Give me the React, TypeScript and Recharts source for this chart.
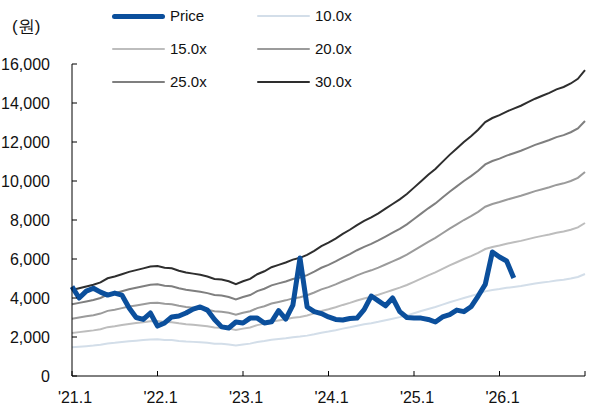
import React from 'react';
import { LineChart, Line, XAxis, YAxis } from 'recharts';

const months: string[] = [
  '21.01','21.02','21.03','21.04','21.05','21.06','21.07','21.08','21.09','21.10','21.11','21.12',
  '22.01','22.02','22.03','22.04','22.05','22.06','22.07','22.08','22.09','22.10','22.11','22.12',
  '23.01','23.02','23.03','23.04','23.05','23.06','23.07','23.08','23.09','23.10','23.11','23.12',
  '24.01','24.02','24.03','24.04','24.05','24.06','24.07','24.08','24.09','24.10','24.11','24.12',
  '25.01','25.02','25.03','25.04','25.05','25.06','25.07','25.08','25.09','25.10','25.11','25.12',
  '26.01','26.02','26.03','26.04','26.05','26.06','26.07','26.08','26.09','26.10','26.11','26.12',
  '27.01',
];

// forward EPS (원)
const eps: number[] = [
  147, 150, 153, 156, 160, 167, 170, 174, 178, 181, 184, 187,
  188, 185, 184, 180, 177, 175, 173, 170, 166, 165, 162, 157,
  162, 166, 174, 179, 186, 190, 194, 199, 202, 207, 214, 222,
  228, 235, 243, 250, 258, 265, 271, 278, 286, 294, 302, 311,
  322, 333, 344, 354, 366, 378, 389, 400, 410, 421, 434, 441,
  446, 452, 457, 462, 468, 474, 479, 484, 490, 494, 500, 508,
  523,
];

const price: (number | null)[] = [
  4580, 4000, 4350, 4500, 4300, 4150, 4250, 4150, 3500, 3000, 2900, 3230,
  2560, 2720, 3030, 3080, 3230, 3430, 3540, 3380, 2900, 2520, 2460, 2770,
  2720, 2970, 2970, 2720, 2780, 3350, 2920, 3640, 6050, 3540, 3300, 3200,
  3030, 2900, 2870, 2950, 2970, 3400, 4100, 3850, 3600, 4000, 3300, 3000,
  2970, 2970, 2900, 2770, 3030, 3150, 3380, 3300, 3550, 4100, 4700, 6360,
  6100, 5900, 5030,
];

const multiples: number[] = [10, 15, 20, 25, 30];
const bandNames: string[] = ['10.0x', '15.0x', '20.0x', '25.0x', '30.0x'];
const bandColors: string[] = ['#D3DEE9', '#BDBDBD', '#9B9B9B', '#7F7F7F', '#2E2E2E'];
const priceColor = '#0B4F9C';

const yTicks: number[] = [0, 2000, 4000, 6000, 8000, 10000, 12000, 14000, 16000];
const xTickKeys: string[] = ['21.01', '22.01', '23.01', '24.01', '25.01', '26.01', '27.01'];
const xTickLabels: string[] = ["'21.1", "'22.1", "'23.1", "'24.1", "'25.1", "'26.1", ''];

const data = months.map((m, i) => {
  const row: Record<string, any> = { month: m, price: i < price.length ? price[i] : null };
  multiples.forEach((k, j) => {
    row[bandNames[j]] = eps[i] * k;
  });
  return row;
});

const FONT = '"Liberation Sans", Arial, sans-serif';

const YTick = (props: any) => {
  const { x, y, payload } = props;
  return (
    <g>
      <line x1={x} y1={y} x2={x + 5} y2={y} stroke="#000" strokeWidth={1} />
      <text x={x - 22} y={y} dy={6} textAnchor="end" fontSize={16} fontFamily={FONT} fill="#111">
        {Number(payload.value).toLocaleString('en-US')}
      </text>
    </g>
  );
};

const XTick = (props: any) => {
  const { x, y, payload } = props;
  const idx = xTickKeys.indexOf(payload.value);
  return (
    <g>
      <line x1={x} y1={y} x2={x} y2={y - 5} stroke="#000" strokeWidth={1} />
      <text x={x + 3} y={y + 27} textAnchor="middle" fontSize={16} fontFamily={FONT} fill="#111">
        {idx >= 0 ? xTickLabels[idx] : ''}
      </text>
    </g>
  );
};

const legendItems = [
  { name: 'Price', color: priceColor, width: 5 },
  ...bandNames.map((n, i) => ({ name: n, color: bandColors[i], width: 2.5 })),
];

export default function App() {
  return (
    <div style={{ position: 'absolute', left: 0, top: 0, width: 595, height: 407, background: '#fff', fontFamily: FONT }}>
      <LineChart width={595} height={407} data={data} margin={{ top: 64, right: 10, left: 0, bottom: 0 }}>
        <XAxis
          dataKey="month"
          ticks={xTickKeys}
          interval={0}
          tick={<XTick />}
          tickLine={false}
          tickSize={0}
          tickMargin={0}
          height={31}
          axisLine={{ stroke: '#000', strokeWidth: 1 }}
        />
        <YAxis
          domain={[0, 16000]}
          ticks={yTicks}
          interval={0}
          tick={<YTick />}
          tickLine={false}
          tickSize={0}
          tickMargin={0}
          width={72}
          axisLine={{ stroke: '#000', strokeWidth: 1 }}
        />
        {bandNames.map((n, i) => (
          <Line
            key={n}
            type="linear"
            dataKey={n}
            stroke={bandColors[i]}
            strokeWidth={2}
            dot={false}
            activeDot={false}
            isAnimationActive={false}
          />
        ))}
        <Line
          type="linear"
          dataKey="price"
          stroke={priceColor}
          strokeWidth={5}
          strokeLinejoin="round"
          dot={false}
          activeDot={false}
          connectNulls={false}
          isAnimationActive={false}
        />
      </LineChart>
      <div style={{ position: 'absolute', left: 12, top: 15, fontSize: 17, color: '#111' }}>(원)</div>
      {legendItems.map((it, i) => {
        const col = i % 2;
        const row = Math.floor(i / 2);
        const left = col === 0 ? 112 : 257;
        const cy = 16 + row * 33;
        return (
          <div key={it.name} style={{ position: 'absolute', left, top: cy - 10, height: 20, display: 'flex', alignItems: 'center' }}>
            <div style={{ width: 53, height: it.width, background: it.color, borderRadius: it.width / 2 }} />
            <span style={{ marginLeft: 5, fontSize: 15, color: '#111', lineHeight: '20px' }}>{it.name}</span>
          </div>
        );
      })}
    </div>
  );
}
